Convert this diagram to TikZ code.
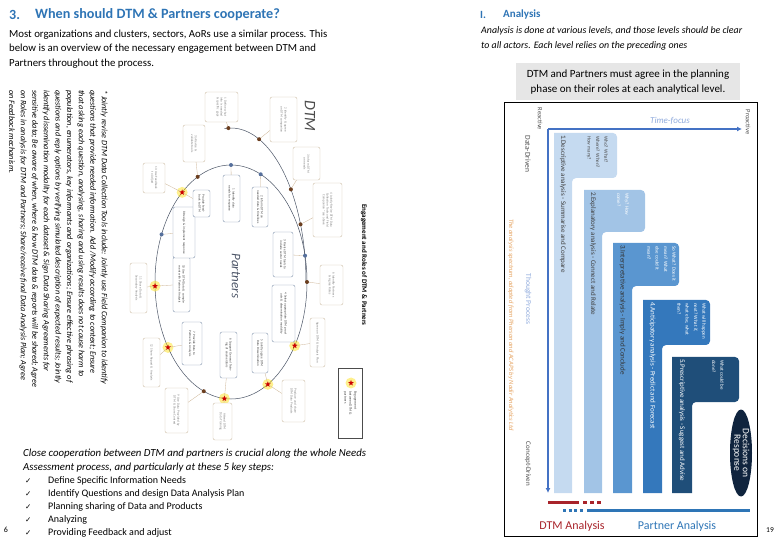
\documentclass[tikz,border=0pt]{standalone}
\usepackage{fontspec}
\setmainfont{Carlito}
\newfontfamily\symfont{DejaVu Sans}
\usetikzlibrary{shapes.geometric,arrows.meta}

\definecolor{titleblue}{HTML}{2E74B5}
\definecolor{axisblue}{HTML}{4472C4}
\definecolor{softblue}{HTML}{8FAADC}
\definecolor{lvlone}{HTML}{C5DAF0}
\definecolor{lvltwo}{HTML}{A2C4E6}
\definecolor{lvlthree}{HTML}{5A96D0}
\definecolor{lvlfour}{HTML}{3478BC}
\definecolor{lvlfive}{HTML}{1F4E79}
\definecolor{navy}{HTML}{10243E}
\definecolor{dtmred}{HTML}{A8232A}
\definecolor{ptrblue}{HTML}{2E75B6}
\definecolor{srcorange}{HTML}{E5A463}
\definecolor{boxtan}{HTML}{CDBDA5}
\definecolor{boxslate}{HTML}{8193AD}
\definecolor{dotbrown}{HTML}{6B3E1F}
\definecolor{dotblue}{HTML}{56709C}
\definecolor{ringgray}{HTML}{4B5466}
\definecolor{notegray}{HTML}{E6E6E6}

\tikzset{
  callout/.style={rotate=-90, rounded corners=2, fill=white, align=center, inner sep=0.5pt,
    font=\fontsize{3.2}{3.8}\selectfont},
  dtmbox/.style={callout, draw=boxtan, text=gray},
  ptrbox/.style={callout, draw=boxslate, text=black!75},
  leader/.style={draw=boxtan!80!brown, line width=0.3pt},
  bdot/.style={circle, fill=dotbrown, inner sep=0, minimum size=4pt},
  pdot/.style={circle, fill=dotblue, inner sep=0, minimum size=4pt},
  engstar/.style={star, star points=5, star point ratio=2.3, fill=red!80!black, inner sep=0, minimum size=6pt},
  starglow/.style={fill=yellow!80!orange, opacity=0.45},
  upright/.style={rotate=-90, inner sep=0},
  lvltext/.style={upright, anchor=west, font=\fontsize{7}{7.5}\selectfont},
  headtext/.style={upright, anchor=north west, align=left, font=\fontsize{5}{8.3}\selectfont, text=white},
}

\begin{document}
\begin{tikzpicture}[x=1pt,y=-1pt]
\useasboundingbox (0,0) rectangle (780,540);

% left page: heading and intro
\node[anchor=west, inner sep=0, text=titleblue, font=\fontsize{14}{16}\selectfont\bfseries] (secnum) at (9,15) {3.};
\node[anchor=west, inner sep=0, text=titleblue, font=\fontsize{14.2}{16}\selectfont\bfseries] (title) at (35,15) {When should DTM \& Partners cooperate?};
\node[anchor=north west, inner sep=0, align=left, font=\fontsize{10.8}{14.2}\selectfont] (intro) at (9,30)
  {Most organizations and clusters, sectors, AoRs use a similar process. This\\
   below is an overview of the necessary engagement between DTM and\\
   Partners throughout the process.};

% rotated note on the tools
\node[upright, anchor=north west, align=left, font=\fontsize{8.2}{11.6}\selectfont\itshape] (toolsnote) at (108,90)
  {* Jointly revise DTM Data Collection Tools include: Jointly use Field Companion to identify\\
   questions that provide needed information. Add /Modify according to context; Ensure\\
   that asking each question, analysing, sharing and using results does not cause harm to\\
   population, enumerators, key informants and organizations; Ensure effective phrasing of\\
   questions and reply options by verifying simulated description of expected results; Jointly\\
   identify dissemination modality for each dataset \& Sign Data Sharing Agreements for\\
   sensitive data; Be aware of when, where \& how DTM data \& reports will be shared; Agree\\
   on Roles in analysis for DTM and Partners; Share/receive final Data Analysis Plan; Agree\\
   on Feedback mechanism.};

% the two cycles
\draw[ringgray, line width=0.5] plot[domain=-95:0, samples=60] ({231+75*cos(\x)},{282+154*sin(\x)});
\draw[ringgray, line width=0.5] (231,282) ellipse [x radius=76, y radius=117];

\node[upright, font=\fontsize{16}{16}\selectfont\itshape, text=black!70] (dtmlab) at (310,116) {DTM};
\node[upright, font=\fontsize{13}{13}\selectfont\itshape, text=ringgray] (ptrlab) at (236,276) {Partners};
\node[upright, font=\fontsize{7}{8}\selectfont\bfseries] (cycletitle) at (364,265) {Engagement and Roles of DTM \& Partners};

% dots on the DTM arc
\foreach \name/\ang in {o1/-92, o2/-68, o3/-37, o4/-22}
  \node[bdot] (\name) at ({231+75*cos(\ang)},{282+154*sin(\ang)}) {};
% dots on the partner ring
\foreach \name/\ang in {p1/-90, p2/-67, p3/-13, p4/204}
  \node[pdot] (\name) at ({231+76*cos(\ang)},{282+117*sin(\ang)}) {};
\foreach \name/\ang in {b1/0, b2/111, b3/244}
  \node[bdot] (\name) at ({231+76*cos(\ang)},{282+117*sin(\ang)}) {};
\foreach \name/\ang in {s1/33, s2/61, s3/95, s4/146, s5/178, s6/230} {
  \fill[starglow] ({231+76*cos(\ang)},{282+117*sin(\ang)}) circle (5.5);
  \node[engstar] (\name) at ({231+76*cos(\ang)},{282+117*sin(\ang)}) {};
}

% DTM callouts
\node[dtmbox, minimum width=30, minimum height=33, text width=24pt] (needs) at (221.5,107) {1 Define what info is needed \& specific gaps};
\node[dtmbox, minimum width=45, minimum height=27, text width=39pt] (companion) at (283.5,119.5) {2 Identify \& agree on DTM companion};
\node[dtmbox, minimum width=33, minimum height=27, text width=27pt] (informdtm) at (306.5,163.5) {3 Inform DTM on needs};
\node[dtmbox, minimum width=54, minimum height=29, text width=48pt] (tools) at (327.5,210) {4 Jointly Revise DTM Data Collection Tools and Field Companion *see above};
\node[dtmbox, minimum width=37, minimum height=22, text width=31pt] (validate) at (194,143.5) {3a Revise \& validate tools};
\node[dtmbox, minimum width=30, minimum height=22, text width=24pt] (adjust) at (154,178) {13 Use Feedback to Adjust};
\node[dtmbox, minimum width=40, minimum height=23, text width=34pt] (roles) at (331.5,285) {6 Identify Partners \& Agree Roles};
\node[dtmbox, minimum width=49, minimum height=15, text width=43pt] (agreeplan) at (317.5,342.5) {Agree on DTM \& Analysis Plan};
\node[dtmbox, minimum width=42, minimum height=23, text width=36pt] (produce) at (293.5,401) {Produce and share DTM Data Products};
\node[dtmbox, minimum width=37, minimum height=19, text width=31pt] (training) at (222.5,421.5) {Attend DTM Data Training};
\node[dtmbox, minimum width=45, minimum height=23, text width=39pt] (provided) at (176.5,410.5) {9 Use Data Provided by DTM \& Share Context};
\node[dtmbox, minimum width=49, minimum height=17, text width=43pt] (report) at (151.5,362.5) {12 Share Report \& Analysis};
\node[dtmbox, minimum width=50, minimum height=17, text width=44pt] (secondary) at (138.5,288) {11 Share Data \& Secondary Analysis};

% partner callouts
\node[ptrbox, minimum width=47, minimum height=17, text width=41pt] (dataneeds) at (231.5,198.5) {1 Identify data needs for response};
\node[ptrbox, minimum width=40, minimum height=16, text width=34pt] (timelines) at (260,207) {2 Inform DTM on needed data \& timelines};
\node[ptrbox, minimum width=45, minimum height=20, text width=39pt] (sectorneeds) at (283,254.5) {3 Revise DTM tools to include sector needs};
\node[ptrbox, minimum width=57, minimum height=23, text width=51pt] (products) at (283.5,313.5) {4 Select appropriate DTM products \& dissemination modality};
\node[ptrbox, minimum width=40, minimum height=16, text width=34pt] (dissem) at (260,353) {5 Jointly agree DTM Data Dissemination};
\node[ptrbox, minimum width=46, minimum height=17, text width=40pt] (support) at (228.5,355) {6 Support General Training of enumerators};
\node[ptrbox, minimum width=43, minimum height=20, text width=37pt] (provide) at (192,343.5) {7 Provide Data to Partners \& Analysis};
\node[ptrbox, minimum width=55, minimum height=17, text width=49pt] (complement) at (181.5,284.5) {10 Use DTM Data \& complement with Partners Analysis};
\node[ptrbox, minimum width=51, minimum height=22, text width=45pt] (response) at (184,232.5) {8 Design \& implement response};
\node[ptrbox, minimum width=27, minimum height=17, text width=23pt] (feedback) at (201.5,203.5) {Provide feedback to DTM};

% leaders from callouts to the cycles
\foreach \a/\b in {needs/o1, companion/o2, informdtm/o3, tools/o4, validate/b3, adjust/s6, feedback/s6,
    dataneeds/p1, timelines/p2, sectorneeds/p3, roles/b1, products/s1, agreeplan/s1, dissem/s2, produce/s2,
    training/s3, support/s3, provided/b2, report/s4, provide/s4, secondary/s5, complement/s5, response/p4}
  \draw[leader] (\a) -- (\b);

% legend
\draw[black!70, line width=0.6] (338,368) rectangle (362,438);
\fill[starglow] (351,383) circle (5.5);
\node[engstar] (legstar) at (351,383) {};
\node[upright, anchor=north west, align=left, font=\fontsize{3.6}{5}\selectfont, text=black!70] (legtext) at (357,391)
  {Engagement\\between DTM \&\\partners};

% bottom of left page
\node[anchor=west, inner sep=0, font=\fontsize{10.8}{12}\selectfont\itshape] (closing1) at (23,454) {Close cooperation between DTM and partners is crucial along the whole Needs};
\node[anchor=west, inner sep=0, font=\fontsize{10.8}{12}\selectfont\itshape] (closing2) at (23,468) {Assessment process, and particularly at these 5 key steps:};
\foreach \i/\yy/\txt in {1/481/Define Specific Information Needs,
    2/494/Identify Questions and design Data Analysis Plan,
    3/507/Planning sharing of Data and Products,
    4/520/Analyzing,
    5/533/Providing Feedback and adjust} {
  \node[anchor=west, inner sep=0, font=\symfont\fontsize{7.5}{9}\selectfont] (tick\i) at (25,\yy) {✓};
  \node[anchor=west, inner sep=0, font=\fontsize{10}{12}\selectfont] (step\i) at (48,\yy) {\txt};
}
\node[font=\fontsize{8}{9}\selectfont] (pageleft) at (6,530) {6};

% right page: heading
\node[anchor=west, inner sep=0, text=titleblue, font=\fontsize{11}{13}\selectfont\bfseries] (romannum) at (480,15) {I.};
\node[anchor=west, inner sep=0, text=titleblue, font=\fontsize{11}{13}\selectfont\bfseries] (analysis) at (503,15) {Analysis};
\node[anchor=north west, inner sep=0, align=left, font=\fontsize{9.9}{15.5}\selectfont\itshape] (levels) at (481,26)
  {Analysis is done at various levels, and those levels should be clear\\
   to all actors. Each level relies on the preceding ones};
\node[fill=notegray, minimum width=224, minimum height=37, align=center, font=\fontsize{11}{15}\selectfont] (agree) at (628,82)
  {DTM and Partners must agree in the planning\\ phase on their roles at each analytical level.};

% analysis spectrum
\draw[black, line width=0.8] (504,102) rectangle (757,536);

\fill[lvlone] (554,493) -- (554,133) [rounded corners=4] -- (617,133) -- (617,178) -- (572,178) -- (572,200) [sharp corners] -- (572,493) -- cycle;
\fill[lvltwo] (584,493) -- (584,190) [rounded corners=4] -- (645,190) -- (645,232) -- (602,232) -- (602,250) [sharp corners] -- (602,493) -- cycle;
\fill[lvlthree] (613,493) -- (613,243) [rounded corners=4] -- (679,243) -- (679,286) -- (632,286) -- (632,300) [sharp corners] -- (632,493) -- cycle;
\fill[lvlfour] (643,493) -- (643,300) [rounded corners=4] -- (710,300) -- (710,345) -- (662,345) -- (662,360) [sharp corners] -- (662,493) -- cycle;
\fill[lvlfive] (672,493) -- (672,357) [rounded corners=4] -- (739,357) -- (739,402) -- (692,402) -- (692,420) [sharp corners] -- (692,493) -- cycle;

\node[lvltext, text=black!75] (lvl1) at (563,135) {1.Descriptive analysis - Summarise and Compare};
\node[lvltext, text=black!75] (lvl2) at (593,192) {2.Explanatory analysis - Connect and Relate};
\node[lvltext, text=black!80] (lvl3) at (622.5,245) {3.Interpretative analysis - Imply and Conclude};
\node[lvltext, text=white] (lvl4) at (652.5,302) {4.Anticipatory analysis - Predict and Forecast};
\node[lvltext, text=white] (lvl5) at (682,359) {5.Prescriptive analysis - Suggest and Advise};

\node[headtext, text=black!70] (ask1) at (608,136) {Who? What?\\Where? When?\\How many?};
\node[headtext] (ask2) at (629,193) {Why? How\\come?};
\node[headtext] (ask3) at (676,246) {So What? Does it\\mean? What\\else could it\\mean?};
\node[headtext] (ask4) at (706,303) {What will happen\\next? What if,\\what else, what\\then?};
\node[headtext] (ask5) at (724,360) {What could be\\done?};

\coordinate (origin) at (548,129);
\coordinate (timeend) at (742,129);
\coordinate (thoughtend) at (548,493);
\draw[axisblue, line width=1.5, -{Latex[length=5pt, width=5pt]}] (origin) -- (timeend);
\draw[axisblue, line width=1.5, -{Latex[length=5pt, width=5pt]}] (origin) -- (thoughtend);

\node[text=softblue, font=\fontsize{9}{10}\selectfont\itshape] (timefocus) at (670,121) {Time-focus};
\node[upright, text=black!70, font=\fontsize{6.5}{7}\selectfont] (proactive) at (748,122) {Proactive};
\node[upright, text=black!70, font=\fontsize{6.5}{7}\selectfont] (reactive) at (540,119) {Reactive};
\node[upright, text=black!70, font=\fontsize{7.5}{8}\selectfont] (datadriven) at (528,154) {Data-Driven};
\node[upright, text=black!70, font=\fontsize{7}{8}\selectfont] (conceptdriven) at (528,464) {Concept-Driven};
\node[upright, text=softblue, font=\fontsize{7.5}{8}\selectfont] (thought) at (528,299) {Thought Process};
\node[upright, text=srcorange, font=\fontsize{6.6}{7}\selectfont\itshape] (source) at (511,325)
  {The analysis spectrum, adapted from Pherson and ACAPS by Nadir Analytics Ltd};

\node[ellipse, fill=navy, minimum width=22, minimum height=87, inner sep=0] (decisions) at (741,453) {};
\node[upright, text=white, align=center, font=\fontsize{9.5}{8.5}\selectfont] (decisiontext) at (decisions) {Decisions on\\Response};

% who leads the analysis
\draw[dtmred, line width=3] (548,502) -- (579,502);
\draw[dtmred, line width=3, dash pattern=on 4 off 3] (583,502) -- (601,502);
\draw[ptrblue, line width=3, dash pattern=on 3 off 2.5] (563,510) -- (584,510);
\draw[ptrblue, line width=3] (587,510) -- (750,510);
\node[text=dtmred, font=\fontsize{12}{13}\selectfont] (dtmanalysis) at (572,526) {DTM Analysis};
\node[text=ptrblue, font=\fontsize{12}{13}\selectfont] (ptranalysis) at (677,526) {Partner Analysis};
\node[font=\fontsize{7.5}{8}\selectfont] (pageright) at (770,530) {19};
\end{tikzpicture}
\end{document}
